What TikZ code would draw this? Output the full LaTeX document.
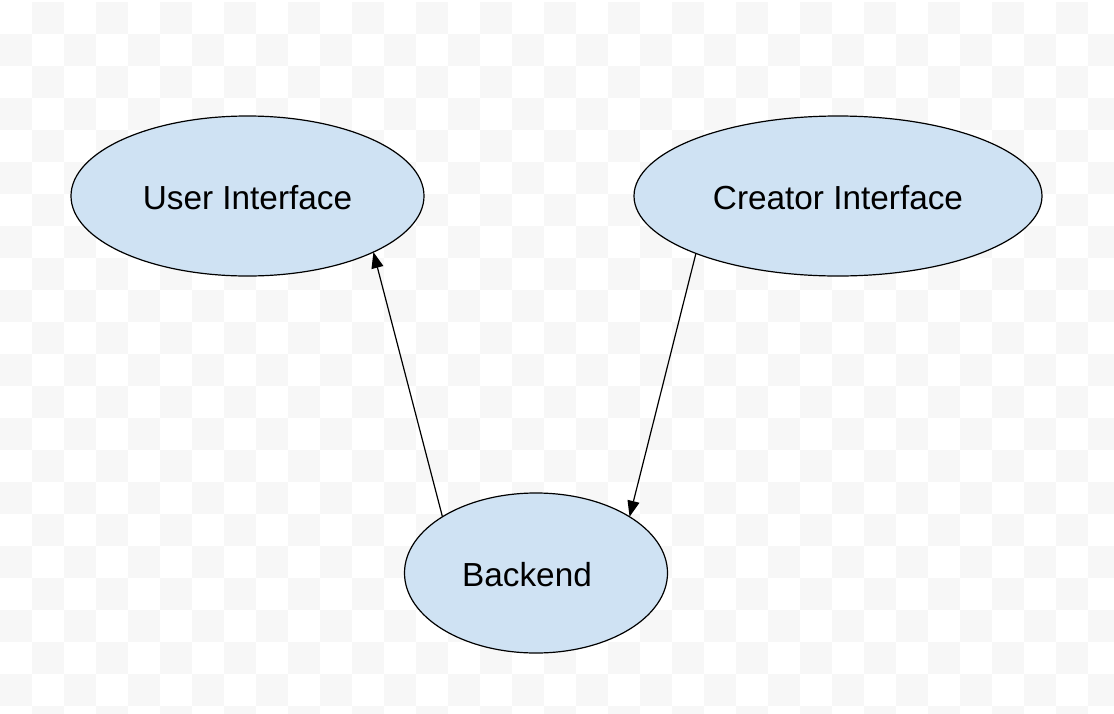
\documentclass[tikz,border=0pt]{standalone}
\usepackage{fontspec}
\setmainfont{Liberation Sans}
\usetikzlibrary{shapes.geometric,arrows.meta}
\definecolor{paleblue}{HTML}{CFE2F3}
\definecolor{checker}{HTML}{F7F7F7}

\begin{document}
\begin{tikzpicture}[x=0.75pt,y=-0.75pt,
    blob/.style={ellipse,draw,fill=paleblue,line width=0.9pt,inner sep=0pt,outer sep=0pt,
      minimum height=120pt,text height=19.5pt,text depth=0pt,font=\fontsize{25pt}{30pt}\selectfont},
    link/.style={line width=0.9pt,-{Triangle[length=12pt,width=9pt]}}]
      \useasboundingbox (0,0) rectangle (1114,714);
      \fill[white] (0,0) rectangle (1114,714);
      \begin{scope}
        \clip (0,0) rectangle (1114,714);
        \foreach \j in {0,...,22}
          \foreach \i in {0,...,34}{
            \pgfmathtruncatemacro\parity{\i+\j}
            \ifodd\parity
              \fill[checker] (32*\i,2+32*\j) rectangle (32*\i+32,34+32*\j);
            \fi
          }
      \end{scope}
      \node[blob,minimum width=264.75pt](user) at (247.5,196){User Interface};
      \node[blob,minimum width=306pt](creator) at (838,196){Creator Interface};
      \node[blob,minimum width=197.25pt](backend) at (536,573){Backend\kern13.5pt};
      \draw[link] (backend.149) -- (user.-24);
      \draw[link] (creator.-158) -- (backend.31);
    \end{tikzpicture}
\end{document}
